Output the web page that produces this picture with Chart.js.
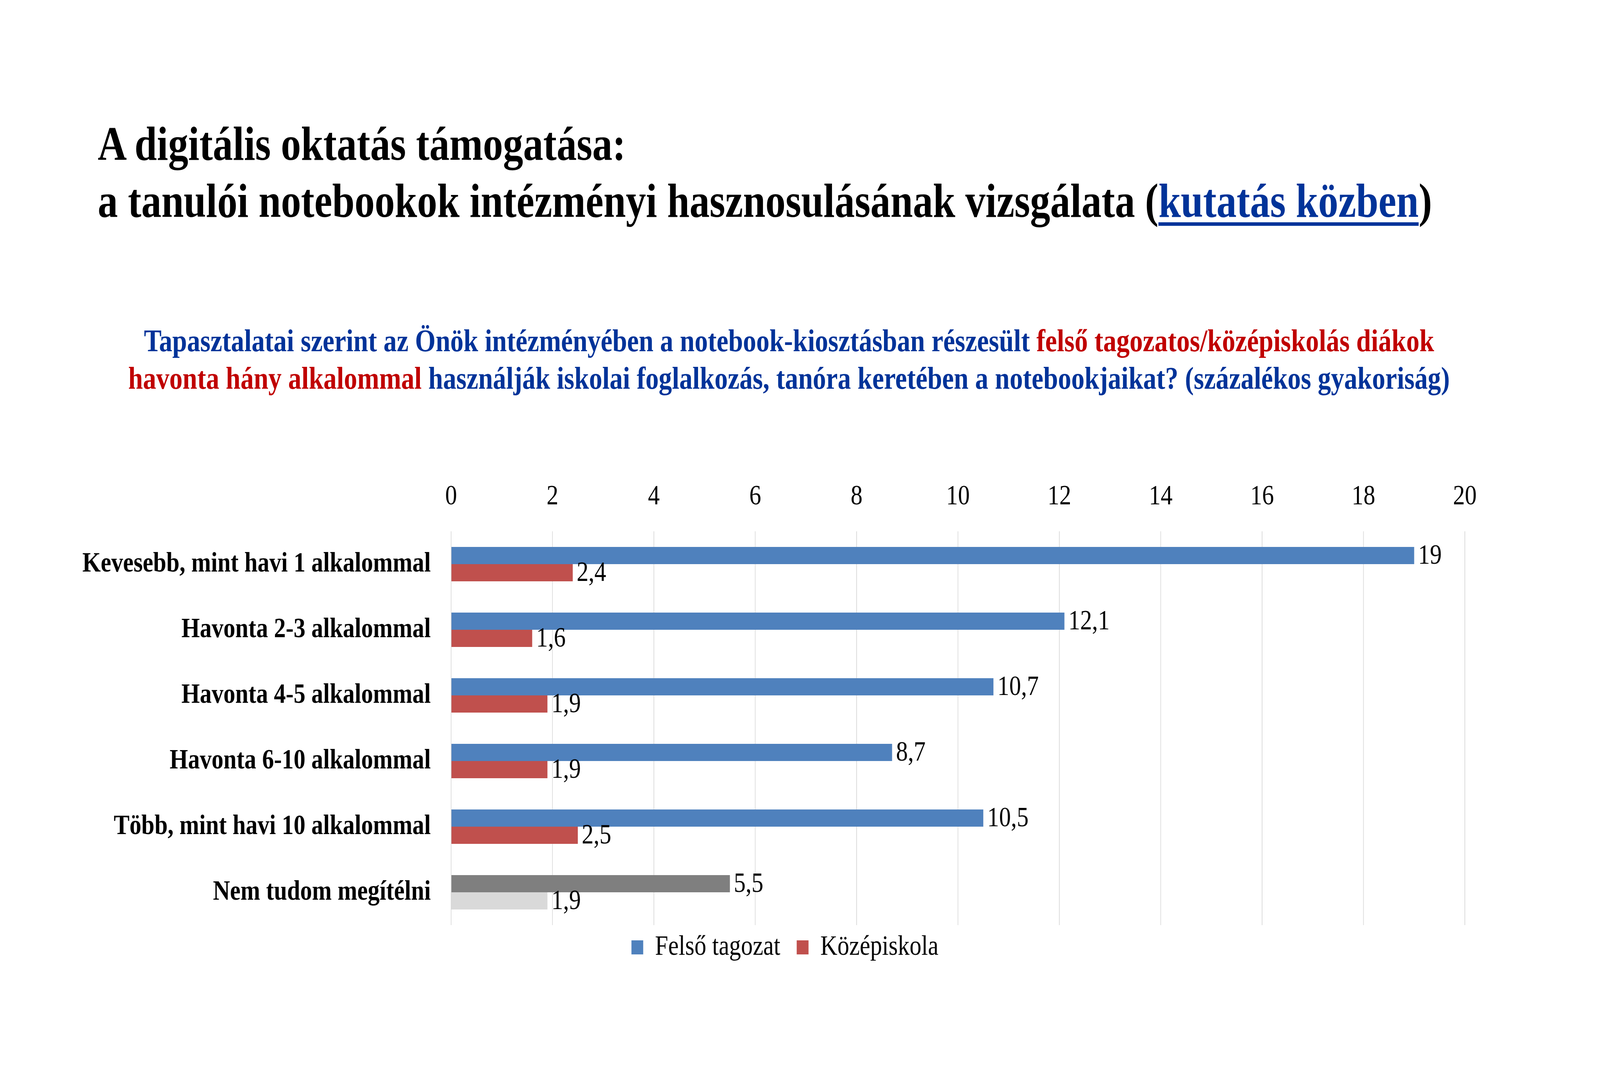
<!DOCTYPE html>
<html>
<head>
<meta charset="utf-8">
<script src="https://cdn.jsdelivr.net/npm/chart.js@4.4.1/dist/chart.umd.min.js"></script>
<style>
  html, body { margin: 0; padding: 0; background: #fff; overflow: hidden; }
  body { font-family: "Liberation Serif", "Times New Roman", serif; }
  /* page is laid out at 4877x2744 and scaled to whatever window we get */
  #page { position: absolute; left: 0; top: 0; width: 4877px; height: 2744px; transform-origin: 0 0; background: #fff; }
  #title {
    position: absolute; left: 298px; top: 295px;
    font-size: 122.5px; line-height: 146px; font-weight: bold; color: #000; white-space: nowrap;
  }
  #title .link { color: #003399; text-decoration: underline; text-decoration-thickness: 9px; text-underline-offset: 14px; }
  #subtitle {
    position: absolute; left: 0; width: 4810px; top: 824px; text-align: center;
    font-size: 80.5px; line-height: 96px; font-weight: bold; color: #003399; white-space: nowrap;
  }
  #subtitle .red { color: #C00000; }
  #chartBox { position: absolute; left: 240px; top: 1200px; width: 4306px; height: 1300px; }
</style>
</head>
<body>
<div id="page">
<div id="title">A digitális oktatás támogatása:<br>a tanulói notebookok intézményi hasznosulásának vizsgálata (<span class="link">kutatás közben</span>)</div>
<div id="subtitle">Tapasztalatai szerint az Önök intézményében a notebook-kiosztásban részesült <span class="red">felső tagozatos/középiskolás diákok</span><br><span class="red">havonta hány alkalommal</span> használják iskolai foglalkozás, tanóra keretében a notebookjaikat? (százalékos gyakoriság)</div>
<div id="chartBox"><canvas id="chart" width="4306" height="1300"></canvas></div>
</div>
<script>
// fit the 4877x2744 layout into the actual window
const page = document.getElementById('page');
page.style.transform = 'scale(' + (window.innerWidth / 4877) + ',' + (window.innerHeight / 2744) + ')';

// Data
const categories = [
  'Kevesebb, mint havi 1 alkalommal',
  'Havonta 2-3 alkalommal',
  'Havonta 4-5 alkalommal',
  'Havonta 6-10 alkalommal',
  'Több, mint havi 10 alkalommal',
  'Nem tudom megítélni'
];
const felsoValues = [19, 12.1, 10.7, 8.7, 10.5, 5.5];
const kozepValues = [2.4, 1.6, 1.9, 1.9, 2.5, 1.9];
const seriesNames = ['Felső tagozat', 'Középiskola'];
const xTicks = [0, 2, 4, 6, 8, 10, 12, 14, 16, 18, 20];

const BLUE = '#4F81BD';
const RED = '#C0504D';
const DARK_GRAY = '#7F7F7F';
const LIGHT_GRAY = '#D9D9D9';
const FONT = '"Liberation Serif", "Times New Roman", serif';

// last category ("Nem tudom") is drawn in gray
const lastIdx = categories.length - 1;
function colorFor(normal, gray) {
  return (ctx) => (ctx.dataIndex === lastIdx ? gray : normal);
}

// value labels next to the bar ends, decimal comma
const valueLabels = {
  id: 'valueLabels',
  afterDatasetsDraw(chart) {
    const ctx = chart.ctx;
    ctx.save();
    ctx.font = '72px ' + FONT;
    ctx.fillStyle = '#000';
    ctx.textAlign = 'left';
    ctx.textBaseline = 'middle';
    chart.data.datasets.forEach((ds, i) => {
      const meta = chart.getDatasetMeta(i);
      meta.data.forEach((bar, j) => {
        const txt = String(ds.data[j]).replace('.', ',');
        ctx.fillText(txt, bar.x + 12, bar.y + 2);
      });
    });
    ctx.restore();
  }
};

// legend sits centred under the whole figure, a bit closer to the plot
const legendShift = {
  id: 'legendShift',
  afterLayout(chart) {
    const lg = chart.legend;
    const dx = 36, dy = -29;
    lg.left += dx; lg.right += dx;
    lg.top += dy; lg.bottom += dy;
  }
};

new Chart(document.getElementById('chart'), {
  type: 'bar',
  data: {
    labels: categories,
    datasets: [
      {
        label: seriesNames[0],
        data: felsoValues,
        backgroundColor: colorFor(BLUE, DARK_GRAY),
        borderWidth: 0
      },
      {
        label: seriesNames[1],
        data: kozepValues,
        backgroundColor: colorFor(RED, LIGHT_GRAY),
        borderWidth: 0
      }
    ]
  },
  options: {
    indexAxis: 'y',
    responsive: false,
    animation: false,
    devicePixelRatio: 1,
    barPercentage: 1,
    categoryPercentage: 0.525,
    layout: { padding: { left: 0, right: 73, top: 0, bottom: 0 } },
    scales: {
      x: {
        position: 'top',
        min: 0,
        max: 20,
        afterBuildTicks: (scale) => { scale.ticks = xTicks.map(v => ({ value: v })); },
        afterFit: (scale) => { scale.height = 160; },
        ticks: { color: '#000', font: { family: FONT, size: 72 }, padding: 45 },
        grid: { color: '#D9D9D9', lineWidth: 2, drawTicks: false },
        border: { display: false }
      },
      y: {
        afterFit: (scale) => { scale.width = 1135; },
        ticks: { color: '#000', font: { family: FONT, size: 72, weight: 'bold' }, padding: 62 },
        grid: { display: false, drawTicks: false },
        border: { display: false }
      }
    },
    plugins: {
      legend: {
        position: 'bottom',
        labels: {
          color: '#000',
          font: { family: FONT, size: 72 },
          boxWidth: 36,
          boxHeight: 36,
          padding: 50
        }
      },
      tooltip: { enabled: false }
    }
  },
  plugins: [valueLabels, legendShift]
});
</script>
</body>
</html>
